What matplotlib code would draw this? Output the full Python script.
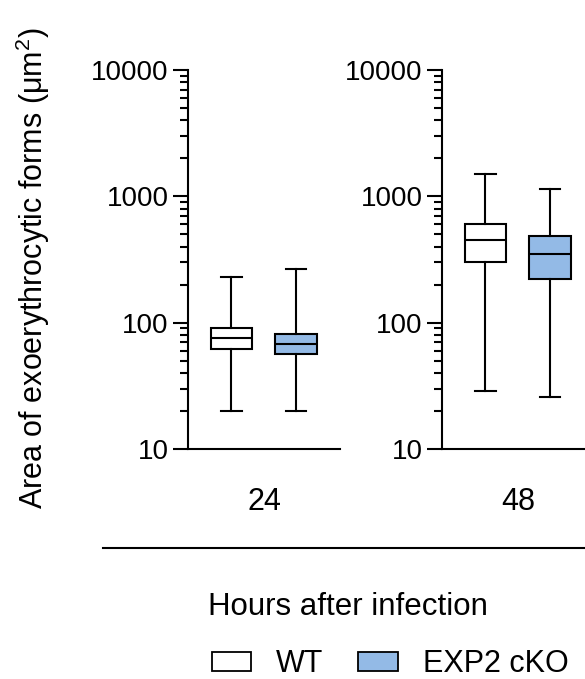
import numpy as np
import matplotlib
matplotlib.use("Agg")
import matplotlib.pyplot as plt
from matplotlib.patches import Patch
from matplotlib.lines import Line2D
from matplotlib.ticker import LogLocator, NullFormatter, FixedLocator

plt.rcParams["font.family"] = ["Liberation Sans", "DejaVu Sans"]
plt.rcParams["mathtext.fontset"] = "custom"
plt.rcParams["mathtext.rm"] = "Liberation Sans"

hours = ["24", "48"]
groups = ["WT", "EXP2 cKO"]
colors = ["white", "#93BAE6"]

# box stats per time point: [WT, cKO] -> (whislo, q1, med, q3, whishi)
whislo = [[20, 20], [29, 26]]
q1 = [[62, 56], [303, 220]]
med = [[75, 68], [448, 349]]
q3 = [[90, 82], [607, 488]]
whishi = [[231, 264], [1490, 1153]]

W, H = 585, 679
fig = plt.figure(figsize=(W / 100, H / 100), dpi=100)

lw = 1.5
axes_left = [188, 442]
for i, h in enumerate(hours):
    ax = fig.add_axes([axes_left[i] / W, (H - 449) / H, 152 / W, 379 / H])
    stats = []
    for j in range(2):
        stats.append(dict(whislo=whislo[i][j], q1=q1[i][j], med=med[i][j],
                          q3=q3[i][j], whishi=whishi[i][j], fliers=[]))
    bp = ax.bxp(stats, positions=[1, 2], widths=0.64, patch_artist=True,
                showfliers=False,
                boxprops=dict(linewidth=lw, edgecolor="black"),
                medianprops=dict(color="black", linewidth=lw),
                whiskerprops=dict(color="black", linewidth=lw),
                capprops=dict(color="black", linewidth=lw), capwidths=0.32)
    for patch, c in zip(bp["boxes"], colors):
        patch.set_facecolor(c)
    ax.set_yscale("log")
    ax.set_ylim(10, 10000)
    ax.set_xlim(0.326, 2.683)
    ax.yaxis.set_major_locator(FixedLocator([10, 100, 1000, 10000]))
    ax.set_yticklabels(["10", "100", "1000", "10000"])
    ax.yaxis.set_minor_locator(LogLocator(base=10, subs=np.arange(2, 10)))
    ax.yaxis.set_minor_formatter(NullFormatter())
    ax.tick_params(axis="y", which="major", length=11, width=lw, labelsize=20, pad=3)
    ax.tick_params(axis="y", which="minor", length=6, width=lw)
    ax.set_xticks([])
    for s in ["top", "right"]:
        ax.spines[s].set_visible(False)
    for s in ["left", "bottom"]:
        ax.spines[s].set_linewidth(lw)
    fig.text((axes_left[i] + 76) / W, 1 - 502 / H, h, ha="center", va="center", fontsize=22)

fig.text(33 / W, 1 - 268 / H, "Area of exoerythrocytic forms (μm$^2$)", rotation=90,
         ha="center", va="center", fontsize=22)

fig.add_artist(Line2D([103 / W, 1.0], [1 - 548 / H, 1 - 548 / H], color="black", linewidth=lw))
fig.text(348 / W, 1 - 607 / H, "Hours after infection", ha="center", va="center", fontsize=22.5)

handles = [Patch(facecolor=c, edgecolor="black", linewidth=1.3) for c in colors]
fig.legend(handles, groups, loc="center", bbox_to_anchor=(390 / W, 1 - 664 / H), ncol=2,
           frameon=False, fontsize=22, handlelength=1.3, handleheight=0.6,
           handletextpad=0.8, columnspacing=1.15, borderaxespad=0, borderpad=0)

fig.savefig("out.png", dpi=100)
